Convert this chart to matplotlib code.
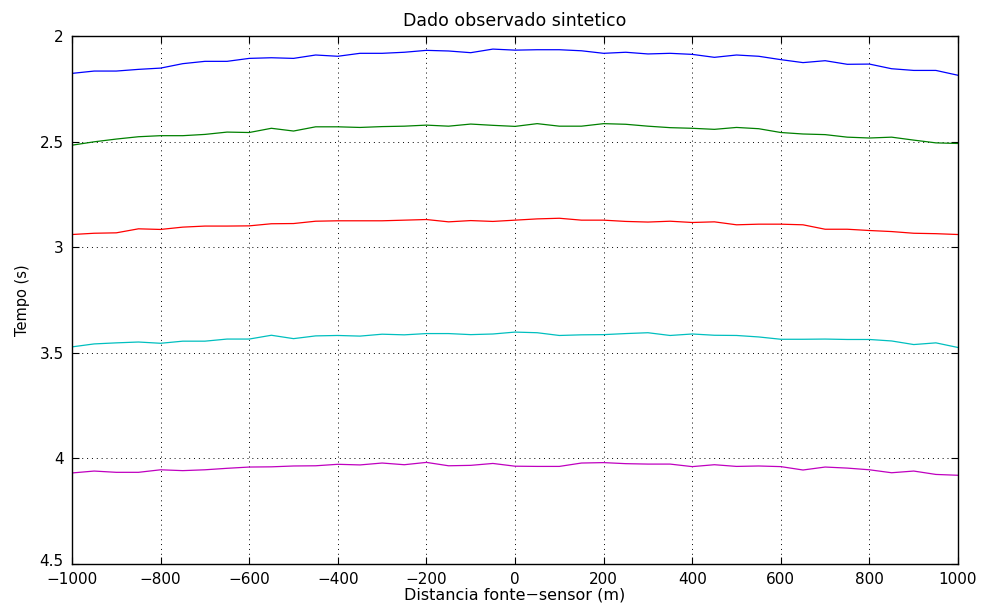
import numpy as np
import matplotlib
matplotlib.use('Agg')
from matplotlib import pyplot as plt
from matplotlib.transforms import ScaledTranslation

# offsets (m), every 50 m
offsets = list(range(-1000, 1001, 50))

# travel times (s)
t1 = [2.177, 2.166, 2.166, 2.158, 2.152, 2.131, 2.120, 2.120, 2.106, 2.103,
      2.106, 2.090, 2.096, 2.082, 2.082, 2.077, 2.068, 2.071, 2.079, 2.062,
      2.067, 2.065, 2.065, 2.070, 2.082, 2.077, 2.085, 2.082, 2.087, 2.101,
      2.090, 2.096, 2.112, 2.126, 2.117, 2.134, 2.133, 2.155, 2.163, 2.163,
      2.186]
t2 = [2.517, 2.501, 2.488, 2.477, 2.472, 2.472, 2.466, 2.455, 2.457, 2.437,
      2.450, 2.430, 2.430, 2.433, 2.429, 2.427, 2.422, 2.427, 2.417, 2.423,
      2.428, 2.415, 2.427, 2.427, 2.415, 2.418, 2.427, 2.434, 2.437, 2.442,
      2.433, 2.439, 2.457, 2.464, 2.467, 2.479, 2.483, 2.479, 2.493, 2.506,
      2.509]
t3 = [2.940, 2.934, 2.932, 2.913, 2.916, 2.905, 2.900, 2.900, 2.899, 2.889,
      2.888, 2.877, 2.875, 2.875, 2.875, 2.872, 2.869, 2.880, 2.874, 2.878,
      2.872, 2.866, 2.863, 2.872, 2.872, 2.878, 2.881, 2.877, 2.883, 2.880,
      2.894, 2.891, 2.891, 2.894, 2.915, 2.915, 2.921, 2.926, 2.934, 2.936,
      2.940]
t4 = [3.472, 3.458, 3.453, 3.449, 3.455, 3.445, 3.445, 3.435, 3.435, 3.417,
      3.433, 3.420, 3.418, 3.421, 3.412, 3.415, 3.409, 3.409, 3.414, 3.411,
      3.402, 3.405, 3.418, 3.415, 3.414, 3.409, 3.405, 3.418, 3.411, 3.417,
      3.418, 3.425, 3.436, 3.436, 3.435, 3.437, 3.437, 3.444, 3.461, 3.453,
      3.475]
t5 = [4.069, 4.060, 4.066, 4.066, 4.054, 4.058, 4.054, 4.047, 4.041, 4.040,
      4.036, 4.035, 4.028, 4.031, 4.022, 4.030, 4.019, 4.035, 4.033, 4.024,
      4.037, 4.038, 4.038, 4.022, 4.020, 4.025, 4.027, 4.027, 4.039, 4.030,
      4.038, 4.036, 4.039, 4.055, 4.041, 4.046, 4.054, 4.068, 4.060, 4.076,
      4.080]

series = [t1, t2, t3, t4, t5]
colors = ['#0000ff', '#008000', '#ff0000', '#00bfbf', '#bf00bf']

# wide sans, closer to the stretched look of the original
plt.rcParams['font.family'] = ['DejaVu Sans']

fig = plt.figure(figsize=(9.81, 6.05), dpi=100)
ax = fig.add_axes([0.0734, 0.0678, 0.9032, 0.8727])

for t, c in zip(series, colors):
    ax.plot(offsets, t, color=c, linewidth=0.9)

ax.set_xlim(-1000, 1000)
ax.set_ylim(4.5, 2)
ax.set_xticks(np.arange(-1000, 1001, 200))
ax.set_yticks([2, 2.5, 3, 3.5, 4, 4.5])
ax.set_yticklabels(['2', '2.5', '3', '3.5', '4', '4.5'])
ax.grid(True, linestyle=(0, (1, 4)), color='black', linewidth=0.7)
ax.tick_params(direction='in', top=True, right=True, length=5, labelsize=11)
ax.tick_params(axis='x', pad=6)
ax.tick_params(axis='y', pad=6)
for s in ax.spines.values():
    s.set_linewidth(1.0)

# lift the bottom y label a bit so it sits above "-1000" like the original
lab = ax.yaxis.get_major_ticks()[-1].label1
lab.set_transform(lab.get_transform() + ScaledTranslation(0, 3 / 72, fig.dpi_scale_trans))

ax.set_title('Dado observado sintetico', fontsize=12.5, pad=7)
ax.set_xlabel('Distancia fonte\u2212sensor (m)', fontsize=11.5, labelpad=0)
ax.set_ylabel('Tempo (s)', fontsize=10.5, labelpad=7)

fig.savefig('out.png', dpi=100)
